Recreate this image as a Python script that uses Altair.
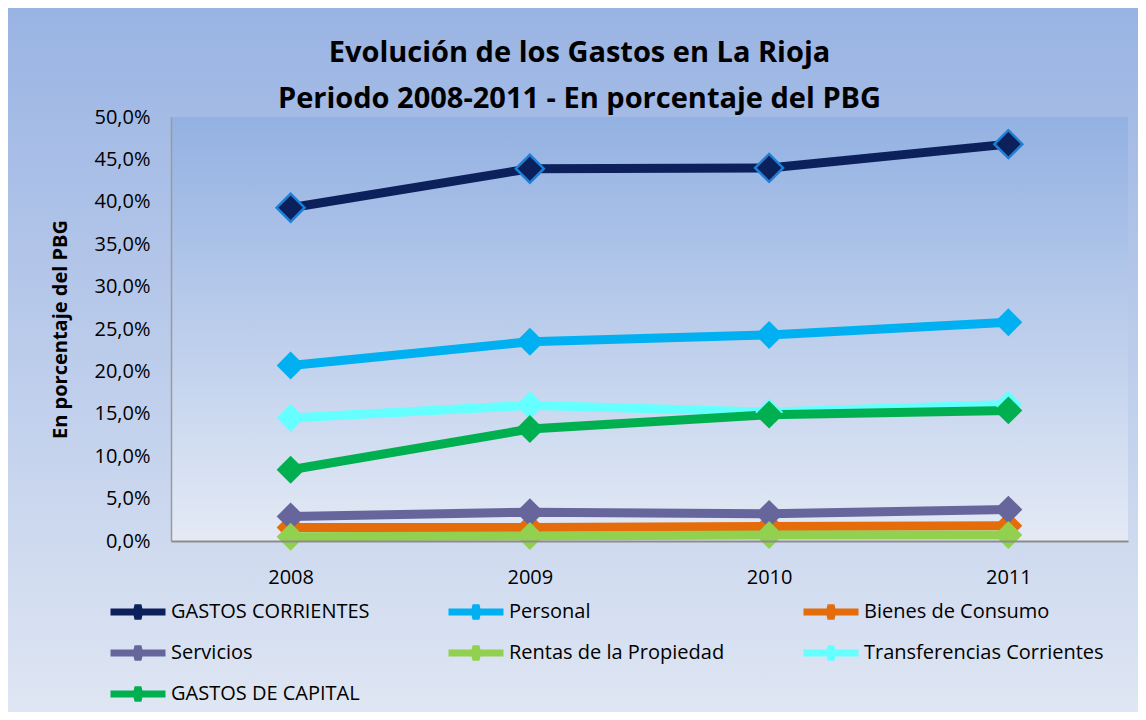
import altair as alt
import pandas as pd

years = ["2008", "2009", "2010", "2011"]
series = [
    "GASTOS CORRIENTES",
    "Personal",
    "Bienes de Consumo",
    "Servicios",
    "Rentas de la Propiedad",
    "Transferencias Corrientes",
    "GASTOS DE CAPITAL",
]
gastos_corrientes = [39.3, 43.9, 44.0, 46.8]
personal = [20.7, 23.5, 24.3, 25.8]
bienes_consumo = [1.6, 1.6, 1.7, 1.8]
servicios = [2.9, 3.4, 3.2, 3.7]
rentas_propiedad = [0.5, 0.6, 0.7, 0.7]
transferencias = [14.5, 16.0, 15.2, 16.1]
gastos_capital = [8.4, 13.2, 14.9, 15.4]
colors = ["#0c215c", "#00b0f0", "#e46c0a", "#66669c", "#92d050", "#66ffff", "#00b050"]
y_ticks = [0, 0.05, 0.10, 0.15, 0.20, 0.25, 0.30, 0.35, 0.40, 0.45, 0.50]

values = [gastos_corrientes, personal, bienes_consumo, servicios,
          rentas_propiedad, transferencias, gastos_capital]
rows = []
for name, vals in zip(series, values):
    for yr, v in zip(years, vals):
        rows.append({"Año": yr, "Serie": name, "Valor": v / 100})
df = pd.DataFrame(rows)

W, H = 957, 424
PL, PT, PR, PB = 163, 109, 10, 171
FONT = "Open Sans, Lato, sans-serif"

outer_bg = alt.Chart(alt.Data(values=[{}])).mark_rect(
    clip=False,
    color=alt.LinearGradient(
        gradient="linear", x1=0, x2=0, y1=0, y2=1,
        stops=[alt.GradientStop(offset=0, color="#99b3e3"),
               alt.GradientStop(offset=1, color="#dfe6f3")],
    ),
).encode(x=alt.value(-PL), x2=alt.value(W + PR), y=alt.value(-PT), y2=alt.value(H + PB))

plot_bg = alt.Chart(alt.Data(values=[{}])).mark_rect(
    color=alt.LinearGradient(
        gradient="linear", x1=0, x2=0, y1=0, y2=1,
        stops=[alt.GradientStop(offset=0, color="#93b1e2"),
               alt.GradientStop(offset=1, color="#e4eaf5")],
    ),
).encode(x=alt.value(0), x2=alt.value(W), y=alt.value(0), y2=alt.value(H))

x_enc = alt.X(
    "Año:N",
    sort=years,
    scale=alt.Scale(type="point", padding=0.5),
    axis=alt.Axis(title=None, labelAngle=0, ticks=False, domainColor="#8c8c8c",
                  domainWidth=2, labelPadding=26, labelFontSize=20, labelFont=FONT,
                  labelColor="black", zindex=1),
)
y_enc = alt.Y(
    "Valor:Q",
    scale=alt.Scale(domain=[0, 0.5], nice=False),
    axis=alt.Axis(values=y_ticks, labelExpr="replace(format(datum.value, '.1%'), '.', ',')",
                  grid=False, ticks=False, domainColor="#9a9a9a", domainWidth=1.5,
                  labelPadding=21, labelFontSize=20, labelFont=FONT, labelColor="black",
                  title="En porcentaje del PBG", titleFontSize=20, titleFont=FONT,
                  titleFontWeight="bold", titleColor="black", titleAngle=-90,
                  titleX=-111, titleY=H / 2, titleAlign="center", titleBaseline="middle",
                  zindex=1),
)

lines = alt.Chart(df).mark_line(strokeWidth=9).encode(
    x=x_enc,
    y=y_enc,
    color=alt.Color(
        "Serie:N",
        sort=series,
        scale=alt.Scale(domain=series, range=colors),
        legend=alt.Legend(
            title=None, orient="none", direction="horizontal", legendX=-64, legendY=483,
            columns=3, columnPadding=75, rowPadding=17, clipHeight=24,
            symbolType="M-1,0L1,0M0,-0.25L0.06,0L0,0.25L-0.06,0Z",
            symbolSize=3025, symbolStrokeWidth=7, labelFontSize=20, labelFont=FONT,
            labelColor="black", labelOffset=2, labelLimit=400, zindex=1,
        ),
    ),
)

points = alt.Chart(df).mark_point(shape="diamond", size=780, filled=True, opacity=1).encode(
    x=x_enc,
    y=y_enc,
    fill=alt.Fill("Serie:N", sort=series, scale=alt.Scale(domain=series, range=colors), legend=None),
    stroke=alt.condition(alt.datum.Serie == "GASTOS CORRIENTES", alt.value("#1e7fd6"), alt.value("transparent")),
    strokeWidth=alt.value(2.5),
)

chart = alt.layer(outer_bg, plot_bg, lines, points).properties(
    width=W,
    height=H,
    autosize=alt.AutoSizeParams(type="none"),
    padding={"left": PL, "top": PT, "right": PR, "bottom": PB},
    title=alt.TitleParams(
        text=["Evolución de los Gastos en La Rioja", "Periodo 2008-2011 - En porcentaje del PBG"],
        fontSize=29, font=FONT, fontWeight="bold", color="black", anchor="middle",
        frame="group", dx=-70, offset=-106, lineHeight=46, zindex=1,
    ),
).configure(font=FONT, background="white").configure_view(stroke=None)

chart.save("out.html", embed_options={"renderer": "svg", "actions": False})
